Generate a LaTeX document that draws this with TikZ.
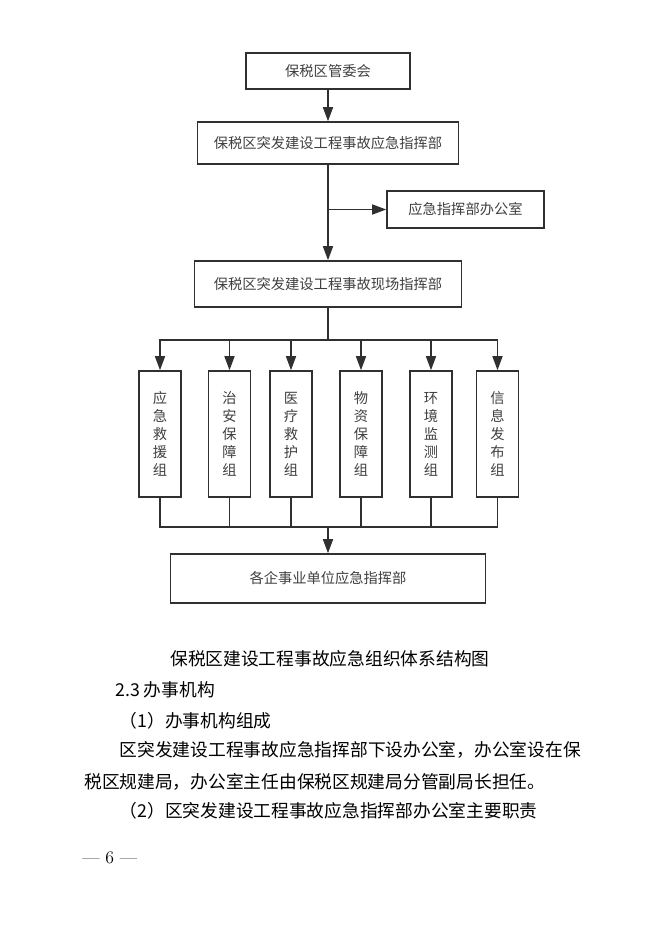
\documentclass[tikz,border=0pt]{standalone}
\usepackage{fontspec}
\newfontfamily\cjk{Noto Sans CJK SC}
\usepackage{tikz}
\usetikzlibrary{arrows.meta, positioning}
\tikzset{>={Triangle[length=10.5pt, width=7.5pt]}}
\definecolor{mygray1}{RGB}{48, 48, 48}
\definecolor{mygray2}{RGB}{64, 64, 64}
\tikzset{
  box/.style = {draw = mygray1, line width = 1.2pt, inner sep = 0pt, text = mygray2,
    font = \cjk\fontsize{10.7pt}{13.5pt}\selectfont, align = center},
  link/.style = {draw = mygray1, line width = 1.2pt},
  body/.style = {anchor = base west, inner sep = 0pt, font = \cjk\fontsize{13.3pt}{16pt}\selectfont}
}

\begin{document}
\begin{tikzpicture}[x = 0.75pt, y = -0.75pt]
\useasboundingbox[fill = white] (0, 0) rectangle (662, 936);

\node[box, minimum width = 123pt, minimum height = 27pt] (top) at (328, 71) {保税区管委会};
\node[box, minimum width = 195.75pt, minimum height = 31.5pt] (hq) at (328, 143) {保税区突发建设工程事故应急指挥部};
\node[box, minimum width = 117.75pt, minimum height = 27.75pt] (office) at (465.5, 209.5) {应急指挥部办公室};
\node[box, minimum width = 200.25pt, minimum height = 34.5pt] (site) at (328, 284) {保税区突发建设工程事故现场指挥部};

\foreach \x/\lbl [count = \i] in {160/{应\\急\\救\\援\\组}, 229.5/{治\\安\\保\\障\\组},
    291/{医\\疗\\救\\护\\组}, 361/{物\\资\\保\\障\\组}, 431/{环\\境\\监\\测\\组}, 497.5/{信\\息\\发\\布\\组}}
  \node[box, minimum width = 31.5pt, minimum height = 94.5pt] (g\i) at (\x, 434) {\lbl};

\node[box, minimum width = 236.25pt, minimum height = 36.75pt] (firms) at (328, 578.5) {各企事业单位应急指挥部};

\coordinate (bus) at (328, 340);
\coordinate (lowbus) at (328, 527);

\draw[link, ->] (top) -- (hq);
\draw[link, ->] (hq) -- (site);
\draw[link, ->] (hq.south |- office.west) -- (office);
\draw[link] (site) -- (bus);
\draw[link, line cap = rect] (g1 |- bus) -- (g6 |- bus);
\foreach \i in {1, ..., 6} {
  \draw[link, ->] (g\i |- bus) -- (g\i);
  \draw[link] (g\i) -- (g\i |- lowbus);
}
\draw[link, line cap = rect] (g1 |- lowbus) -- (g6 |- lowbus);
\draw[link, ->] (lowbus) -- (firms);

\node[body] (caption) at (170, 665) {保税区建设工程事故应急组织体系结构图};
\node[body] (sec) at (115, 696.5) {2.3 办事机构};
\node[body] (item1) at (119.5, 727.5) {（1）办事机构组成};
\node[body] (par1) at (119.5, 756.5) {区突发建设工程事故应急指挥部下设办公室，办公室设在保};
\node[body] (par2) at (84, 788.5) {税区规建局，办公室主任由保税区规建局分管副局长担任。};
\node[body] (item2) at (119.5, 817.5) {（2）区突发建设工程事故应急指挥部办公室主要职责};
\node[anchor = base west, inner sep = 0pt, font = \fontsize{13.3pt}{16pt}\selectfont] (page) at (82, 863) {— 6 —};
\end{tikzpicture}
\end{document}
